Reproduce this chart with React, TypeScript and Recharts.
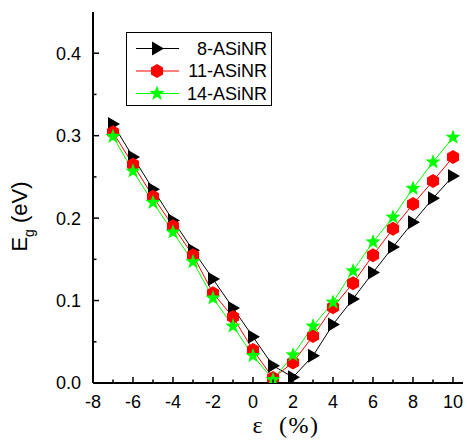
import React from "react";
import { LineChart, Line, XAxis, YAxis, Legend, Label } from "recharts";

// strain (%) and band gap (eV)
const strain = [-7, -6, -5, -4, -3, -2, -1, 0, 1, 2, 3, 4, 5, 6, 7, 8, 9, 10];
const asinr8 = [0.314, 0.274, 0.235, 0.197, 0.161, 0.126, 0.091, 0.056, 0.021, 0.007, 0.033, 0.071, 0.102, 0.134, 0.165, 0.195, 0.224, 0.251];
const asinr11 = [0.304, 0.265, 0.226, 0.19, 0.155, 0.109, 0.08, 0.04, 0.006, 0.025, 0.057, 0.092, 0.121, 0.155, 0.187, 0.217, 0.245, 0.274];
const asinr14 = [0.299, 0.257, 0.219, 0.183, 0.147, 0.103, 0.069, 0.033, 0.004, 0.034, 0.069, 0.098, 0.136, 0.171, 0.201, 0.236, 0.268, 0.298];

const xTicks = [-8, -7, -6, -5, -4, -3, -2, -1, 0, 1, 2, 3, 4, 5, 6, 7, 8, 9, 10];
const yTicks = [0, 0.05, 0.1, 0.15, 0.2, 0.25, 0.3, 0.35, 0.4];

const data = strain.map((s, i) => ({
  strain: s,
  a8: asinr8[i],
  a11: asinr11[i],
  a14: asinr14[i],
}));

const FONT = "Arial, 'Liberation Sans', sans-serif";

const Triangle = ({ cx, cy, color }: any) => (
  <polygon
    points={`${cx - 5},${cy - 7} ${cx + 7},${cy} ${cx - 5},${cy + 7}`}
    fill={color}
  />
);

const Hexagon = ({ cx, cy, color }: any) => {
  const pts = [];
  for (let k = 0; k < 6; k++) {
    const a = (Math.PI / 3) * k - Math.PI / 2;
    pts.push(`${cx + 7 * Math.cos(a)},${cy + 7 * Math.sin(a)}`);
  }
  return <polygon points={pts.join(" ")} fill={color} />;
};

const Star = ({ cx, cy, color }: any) => {
  const pts = [];
  for (let k = 0; k < 10; k++) {
    const r = k % 2 === 0 ? 8 : 3.3;
    const a = (Math.PI / 5) * k - Math.PI / 2;
    pts.push(`${cx + r * Math.cos(a)},${cy + r * Math.sin(a)}`);
  }
  return <polygon points={pts.join(" ")} fill={color} />;
};

const series = [
  { key: "a8", name: "8-ASiNR", color: "#000000", Marker: Triangle },
  { key: "a11", name: "11-ASiNR", color: "#ff0000", Marker: Hexagon },
  { key: "a14", name: "14-ASiNR", color: "#00ff00", Marker: Star },
];

const BottomTick = ({ x, y, payload }: any) => {
  const v = payload.value;
  const major = v % 2 === 0;
  return (
    <g>
      <line x1={x} x2={x} y1={y} y2={y - (major ? 6 : 3.5)} stroke="#000" strokeWidth={1.5} />
      {major && (
        <text x={x} y={y + 25} textAnchor="middle" fontSize={18} fontFamily={FONT} fill="#000">
          {v}
        </text>
      )}
    </g>
  );
};

const TopTick = ({ x, y, payload }: any) => {
  const major = payload.value % 2 === 0;
  return <line x1={x} x2={x} y1={y} y2={y + (major ? 6 : 3.5)} stroke="#000" strokeWidth={1.5} />;
};

const LeftTick = ({ x, y, payload }: any) => {
  const v = payload.value;
  const major = Math.round(v * 100) % 10 === 0;
  return (
    <g>
      <line x1={x} x2={x + (major ? 6 : 3.5)} y1={y} y2={y} stroke="#000" strokeWidth={1.5} />
      {major && (
        <text x={x - 12} y={y} dy="0.36em" textAnchor="end" fontSize={18} fontFamily={FONT} fill="#000">
          {v.toFixed(1)}
        </text>
      )}
    </g>
  );
};

const RightTick = ({ x, y, payload }: any) => {
  const major = Math.round(payload.value * 100) % 10 === 0;
  return <line x1={x} x2={x - (major ? 6 : 3.5)} y1={y} y2={y} stroke="#000" strokeWidth={1.5} />;
};

const LegendBox = () => (
  <svg width={146} height={74} style={{ display: "block" }}>
    <rect x={0.5} y={0.5} width={145} height={73} fill="#fff" stroke="#000" strokeWidth={1} />
    {series.map((s, i) => {
      const cy = 16.5 + i * 22.5;
      const M = s.Marker;
      return (
        <g key={s.key}>
          <line x1={10} x2={53} y1={cy} y2={cy} stroke={s.color} strokeWidth={1} />
          <M cx={31} cy={cy} color={s.color} />
          <text x={141} y={cy} dy="0.36em" textAnchor="end" fontSize={18} fontFamily={FONT} fill="#000">
            {s.name}
          </text>
        </g>
      );
    })}
  </svg>
);

const YTitle = ({ viewBox }: any) => {
  const cx = 27;
  const cy = viewBox.y + viewBox.height / 2 + 19;
  return (
    <text x={cx} y={cy} transform={`rotate(-90, ${cx}, ${cy})`} textAnchor="middle" fontSize={22} fontFamily={FONT} fill="#000">
      E
      <tspan dy={7} fontSize={14}>g</tspan>
      <tspan dy={-7}> (eV)</tspan>
    </text>
  );
};

const XTitle = ({ viewBox }: any) => {
  const cx = viewBox.x + viewBox.width / 2 + 8;
  return (
    <text x={cx} y={433} textAnchor="middle" fontSize={24} fontFamily="'Liberation Serif', 'Times New Roman', serif" fill="#000" style={{ whiteSpace: "pre" }} letterSpacing={1.5}>
      {"ε  (%)"}
    </text>
  );
};

export default function App() {
  return (
    <div style={{ position: "absolute", left: 0, top: 0 }}>
      <LineChart width={467} height={440} data={data} margin={{ top: 12, right: 4, bottom: 0, left: 0 }}>
        <XAxis
          dataKey="strain"
          type="number"
          domain={[-8, 10.5]}
          allowDataOverflow
          ticks={xTicks}
          interval={0}
          height={57}
          tickSize={0}
          tickMargin={0}
          tickLine={false}
          tick={BottomTick}
          axisLine={{ stroke: "#000", strokeWidth: 2 }}
        >
          <Label content={XTitle} />
        </XAxis>
        <XAxis
          xAxisId="top"
          orientation="top"
          type="number"
          domain={[-8, 10.5]}
          allowDataOverflow
          ticks={xTicks}
          interval={0}
          height={0}
          tickSize={0}
          tickMargin={0}
          tickLine={false}
          tick={TopTick}
          axisLine={{ stroke: "#000", strokeWidth: 2 }}
        />
        <YAxis
          type="number"
          domain={[0, 0.45]}
          allowDataOverflow
          ticks={yTicks}
          interval={0}
          width={93}
          tickSize={0}
          tickMargin={0}
          tickLine={false}
          tick={LeftTick}
          axisLine={{ stroke: "#000", strokeWidth: 2 }}
        >
          <Label content={YTitle} />
        </YAxis>
        <YAxis
          yAxisId="right"
          orientation="right"
          type="number"
          domain={[0, 0.45]}
          allowDataOverflow
          ticks={yTicks}
          interval={0}
          width={0}
          tickSize={0}
          tickMargin={0}
          tickLine={false}
          tick={RightTick}
          axisLine={{ stroke: "#000", strokeWidth: 2 }}
        />
        <Legend
          layout="horizontal"
          verticalAlign="middle"
          align="center"
          wrapperStyle={{ left: 126, top: 32, width: 146, height: 74 }}
          content={LegendBox}
        />
        {series.map((s) => (
          <Line
            key={s.key}
            dataKey={s.key}
            name={s.name}
            stroke={s.color}
            strokeWidth={1}
            isAnimationActive={false}
            activeDot={false}
            dot={(p: any) => <s.Marker key={`${s.key}-${p.index}`} cx={p.cx} cy={p.cy} color={s.color} />}
          />
        ))}
      </LineChart>
    </div>
  );
}
